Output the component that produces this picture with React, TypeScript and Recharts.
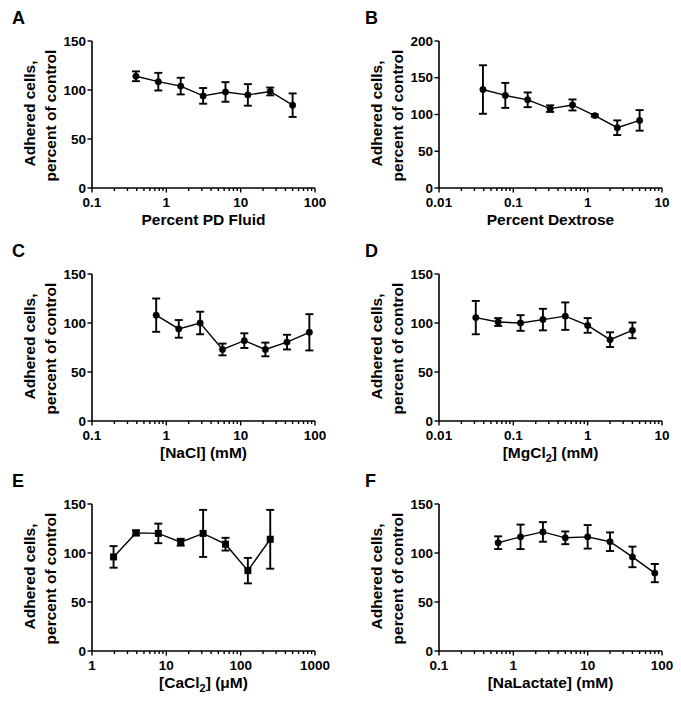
import React from 'react';
import { LineChart, Line, XAxis, YAxis, ErrorBar } from 'recharts';

// Panel A - Percent PD Fluid
const pdX = [0.39, 0.78, 1.56, 3.125, 6.25, 12.5, 25, 50];
const pdY = [114, 108.5, 104, 94, 98, 95, 98.5, 84.5];
const pdErr = [5, 9, 8.5, 8, 10, 11, 4, 12];

// Panel B - Percent Dextrose
const dexX = [0.039, 0.078, 0.156, 0.3125, 0.625, 1.25, 2.5, 5];
const dexY = [134, 126, 120, 108, 113, 98.5, 82, 92];
const dexErr = [33, 17, 10, 4.5, 7.5, 1.5, 10, 14];

// Panel C - NaCl (mM)
const naclX = [0.73, 1.47, 2.85, 5.7, 11.2, 21.5, 42, 84];
const naclY = [108, 94, 100, 73, 82, 73, 80.5, 90.5];
const naclErr = [17, 9, 11.5, 6, 7.5, 7, 7.5, 18.5];

// Panel D - MgCl2 (mM)
const mgX = [0.03125, 0.0625, 0.125, 0.25, 0.5, 1, 2, 4];
const mgY = [105.5, 101, 100, 103.5, 107, 97.5, 83, 92.5];
const mgErr = [17, 4, 8, 11, 14, 7.5, 7.5, 8];

// Panel E - CaCl2 (uM)
const caX = [1.95, 3.9, 7.8, 15.6, 31.25, 62.5, 125, 250];
const caY = [96, 120.5, 120, 111, 120, 109, 82, 114];
const caErr = [11, 2.5, 10, 3.5, 24, 6.5, 13, 30];

// Panel F - NaLactate (mM)
const lacX = [0.625, 1.25, 2.5, 5, 10, 20, 40, 80];
const lacY = [110.5, 116.5, 121.5, 115.5, 116.5, 111.5, 96, 79.5];
const lacErr = [6.5, 12.5, 10, 6.5, 12, 9.5, 10.5, 9.3];

// axis tick labels
const ticksPointOneTo100 = [0.1, 1, 10, 100];
const ticksPointZeroOneTo10 = [0.01, 0.1, 1, 10];
const ticksOneTo1000 = [1, 10, 100, 1000];
const yTicks150 = [0, 50, 100, 150];
const yTicks200 = [0, 50, 100, 150, 200];

const FONT = '"Liberation Sans", Arial, sans-serif';

const isMajor = (v: number) => Math.abs(Math.log10(v) - Math.round(Math.log10(v))) < 1e-6;

// majors plus 2..9 minor ticks inside each decade
const withMinors = (majors: number[]) => {
  const out: number[] = [];
  majors.forEach((m, i) => {
    out.push(m);
    if (i < majors.length - 1) for (let k = 2; k <= 9; k++) out.push(+(m * k).toPrecision(6));
  });
  return out;
};

const XTick = ({ x, y, payload }: any) => {
  const major = isMajor(payload.value);
  return (
    <g>
      <line x1={x} x2={x} y1={y} y2={y + (major ? 4.5 : 3)} stroke="#000" strokeWidth={1.4} />
      {major && (
        <text x={x} y={y + 19} textAnchor="middle" fontFamily={FONT} fontWeight="bold" fontSize={13.5} fill="#000">
          {String(payload.value)}
        </text>
      )}
    </g>
  );
};

const YTick = ({ x, y, payload }: any) => (
  <g>
    <line x1={x - 4.5} x2={x} y1={y} y2={y} stroke="#000" strokeWidth={1.4} />
    <text x={x - 6} y={y + 4.5} textAnchor="end" fontFamily={FONT} fontWeight="bold" fontSize={13.5} fill="#000">
      {payload.value}
    </text>
  </g>
);

const YLabel = ({ viewBox }: any) => {
  const cy = viewBox.y + viewBox.height / 2 - 1;
  return (
    <g fontFamily={FONT} fontWeight="bold" fontSize={15.5} fill="#000">
      <text x={0} y={0} textAnchor="middle" transform={`translate(${viewBox.x + 35},${cy}) rotate(-90)`}>
        Adhered cells,
      </text>
      <text x={0} y={0} textAnchor="middle" transform={`translate(${viewBox.x + 56},${cy + 2}) rotate(-90)`}>
        percent of control
      </text>
    </g>
  );
};

const SquareDot = ({ cx, cy, index }: any) => (
  <rect key={`sq${index}`} x={cx - 3.5} y={cy - 3.5} width={7} height={7} fill="#000" />
);

interface PanelProps {
  letter: string;
  left: number;
  top: number;
  letterX: number;
  xs: number[];
  ys: number[];
  errs: number[];
  xTicks: number[];
  yTicks: number[];
  xLabel: React.ReactNode;
  square?: boolean;
}

const Panel = ({ letter, left, top, letterX, xs, ys, errs, xTicks, yTicks, xLabel, square }: PanelProps) => {
  const data = xs.map((x, i) => ({ x, y: ys[i], err: errs[i] }));
  const domain = [xTicks[0], xTicks[xTicks.length - 1]];
  return (
    <div style={{ position: 'absolute', left, top, width: 340, height: 236 }}>
      <svg width={40} height={32} style={{ position: 'absolute', left: 0, top: 0 }}>
        <text x={letterX} y={24} fontFamily={FONT} fontWeight="bold" fontSize={18} fill="#000">
          {letter}
        </text>
      </svg>
      <LineChart width={340} height={236} data={data} margin={{ top: 41, right: 25, bottom: 0, left: 0 }}>
        <XAxis
          dataKey="x"
          type="number"
          scale="log"
          domain={domain}
          allowDataOverflow
          ticks={withMinors(xTicks)}
          interval={0}
          tickSize={0}
          tickMargin={0}
          tick={<XTick />}
          height={48}
          stroke="#000"
          strokeWidth={1.6}
          label={{
            content: ({ viewBox }: any) => (
              <text
                x={viewBox.x + viewBox.width / 2}
                y={viewBox.y + 37}
                textAnchor="middle"
                fontFamily={FONT}
                fontWeight="bold"
                fontSize={15.5}
                fill="#000"
              >
                {xLabel}
              </text>
            ),
          }}
        />
        <YAxis
          type="number"
          domain={[yTicks[0], yTicks[yTicks.length - 1]]}
          ticks={yTicks}
          interval={0}
          tickSize={0}
          tickMargin={0}
          tick={<YTick />}
          width={92}
          stroke="#000"
          strokeWidth={1.6}
          label={{ content: YLabel }}
        />
        <Line
          dataKey="y"
          stroke="#000"
          strokeWidth={1.4}
          isAnimationActive={false}
          dot={square ? SquareDot : { r: 3.2, fill: '#000', stroke: '#000', strokeWidth: 0.5 }}
          activeDot={false}
        >
          <ErrorBar dataKey="err" direction="y" width={4} stroke="#000" strokeWidth={1.9} isAnimationActive={false} />
        </Line>
      </LineChart>
    </div>
  );
};

const sub = (main: string, digit: string, rest: string) => (
  <>
    {main}
    <tspan dy={4} fontSize={11}>{digit}</tspan>
    <tspan dy={-4}>{rest}</tspan>
  </>
);

export default function App() {
  return (
    <div style={{ position: 'absolute', left: 0, top: 0, width: 681, height: 704, background: '#fff' }}>
      <Panel letter="A" left={0} top={0} letterX={12} xs={pdX} ys={pdY} errs={pdErr}
        xTicks={ticksPointOneTo100} yTicks={yTicks150} xLabel="Percent PD Fluid" />
      <Panel letter="B" left={347} top={0} letterX={18} xs={dexX} ys={dexY} errs={dexErr}
        xTicks={ticksPointZeroOneTo10} yTicks={yTicks200} xLabel="Percent Dextrose" />
      <Panel letter="C" left={0} top={233} letterX={12} xs={naclX} ys={naclY} errs={naclErr}
        xTicks={ticksPointOneTo100} yTicks={yTicks150} xLabel="[NaCl] (mM)" />
      <Panel letter="D" left={347} top={233} letterX={18} xs={mgX} ys={mgY} errs={mgErr}
        xTicks={ticksPointZeroOneTo10} yTicks={yTicks150} xLabel={sub('[MgCl', '2', '] (mM)')} />
      <Panel letter="E" left={0} top={463} letterX={12} xs={caX} ys={caY} errs={caErr}
        xTicks={ticksOneTo1000} yTicks={yTicks150} xLabel={sub('[CaCl', '2', '] (\u03bcM)')} square />
      <Panel letter="F" left={347} top={463} letterX={18} xs={lacX} ys={lacY} errs={lacErr}
        xTicks={ticksPointOneTo100} yTicks={yTicks150} xLabel="[NaLactate] (mM)" />
    </div>
  );
}
